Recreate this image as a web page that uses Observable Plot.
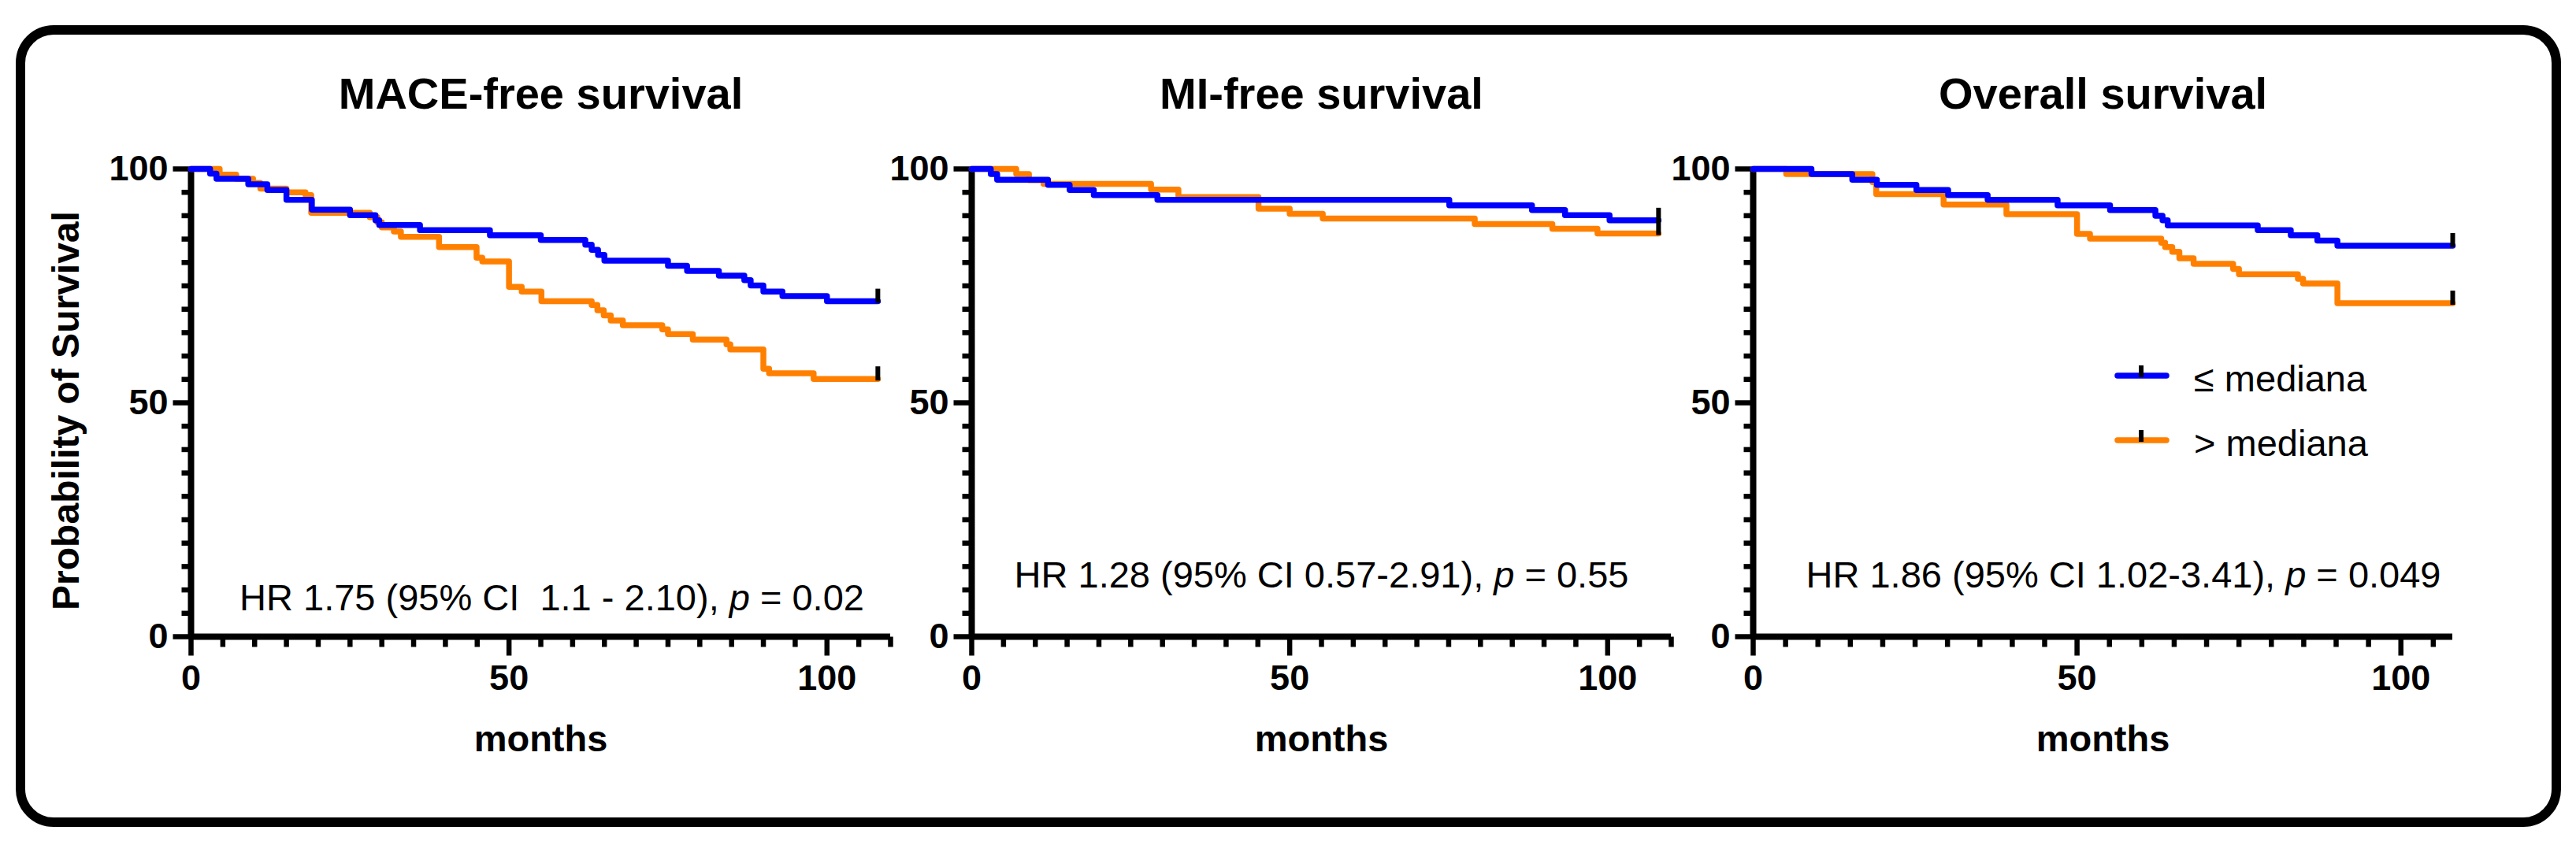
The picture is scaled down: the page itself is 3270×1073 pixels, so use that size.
<!DOCTYPE html>
<html>
<head>
<meta charset="utf-8">
<script src="https://cdn.jsdelivr.net/npm/d3@7"></script>
<script src="https://cdn.jsdelivr.net/npm/@observablehq/plot@0.6"></script>
<style>
  html, body { margin: 0; padding: 0; background: #fff; }
  #root { position: relative; width: 3270px; height: 1073px; overflow: hidden;
          font-family: "Liberation Sans", Arial, Helvetica, sans-serif; }
  #border { position: absolute; left: 20px; top: 32px; width: 3231px; height: 1018px;
            box-sizing: border-box; border: 12px solid #000; border-radius: 48px; }
  .panel { position: absolute; top: 0; }
  #legend { position: absolute; left: 0; top: 0; }
</style>
</head>
<body>
<div id="root"><div id="border"></div></div>
<script>
// ---------- data ----------
const groups = ["≤ mediana", "> mediana"];
const colors = ["#0000FF", "#FF8000"];
const titles = ["MACE-free survival", "MI-free survival", "Overall survival"];
const hrTexts = [
  "HR 1.75 (95% CI  1.1 - 2.10), p = 0.02",
  "HR 1.28 (95% CI 0.57-2.91), p = 0.55",
  "HR 1.86 (95% CI 1.02-3.41), p = 0.049"
];
const xLabel = "months";
const yLabel = "Probability of Survival";
const xMaxes = [110, 110, 108];
const majorTicks = [0, 50, 100];

// MACE-free survival
const maceLowT = [0, 3, 4, 9, 12, 15, 19, 25, 29, 29.6, 36, 47, 55, 62, 63, 64, 65, 75, 78, 83, 87, 88, 90, 93, 100, 108];
const maceLowS = [100, 99, 97.9, 96.7, 95.5, 93.4, 91.3, 90.1, 89, 88, 86.9, 85.8, 84.8, 83.8, 82.7, 81.6, 80.4, 79.3, 78.2, 77.2, 76.2, 75.1, 73.8, 72.8, 71.7, 71.7];
const maceHighT = [0, 4.5, 7.1, 9.75, 10.9, 15, 18, 18.9, 28.1, 29.3, 30, 31.9, 33, 39, 44.9, 45.8, 50, 52, 55.1, 63, 63.9, 64.9, 66, 67.9, 74.1, 75, 78.9, 84.2, 84.8, 90, 90.9, 97.9, 108];
const maceHighS = [100, 98.8, 97.9, 97.0, 95.8, 95.0, 94.4, 90.6, 89.7, 88.6, 87.5, 86.6, 85.5, 83.3, 81.0, 80.2, 74.8, 73.8, 71.7, 70.9, 69.8, 68.7, 67.6, 66.6, 65.7, 64.7, 63.5, 62.5, 61.4, 57.3, 56.3, 55.1, 55.1];

// MI-free survival
const miLowT = [0, 3, 4, 12, 15.4, 19.2, 29.2, 75.1, 88.1, 93.3, 100.3, 108];
const miLowS = [100, 98.9, 97.7, 96.6, 95.5, 94.4, 93.4, 92.2, 91.2, 90.1, 89.0, 89.0];
const miHighT = [0, 7, 9, 11.3, 28.2, 32.5, 45.1, 50, 55.2, 79.1, 91.3, 98.4, 108];
const miHighS = [100, 98.9, 97.6, 96.8, 95.6, 94.0, 91.5, 90.4, 89.4, 88.2, 87.2, 86.2, 86.2];

// Overall survival
const osLowT = [0, 9, 15.3, 19.1, 25.2, 30.1, 36.2, 47, 55.1, 62.1, 63.2, 64, 77.9, 83, 87.1, 90.2, 108];
const osLowS = [100, 98.9, 97.7, 96.6, 95.5, 94.4, 93.4, 92.2, 91.2, 90.0, 89.0, 87.9, 86.9, 85.8, 84.7, 83.6, 83.6];
const osHighT = [0, 5.1, 18.4, 19, 29.4, 39.1, 50, 52, 63, 63.6, 64.7, 65.8, 68, 74.1, 75, 84.1, 84.9, 90.2, 108];
const osHighS = [100, 98.9, 97.2, 94.6, 92.4, 90.3, 86.1, 85.1, 84.2, 83.3, 82.3, 80.9, 79.7, 78.6, 77.5, 76.5, 75.5, 71.3, 71.3];

const panelsData = [
  [[maceLowT, maceLowS], [maceHighT, maceHighS]],
  [[miLowT, miLowS], [miHighT, miHighS]],
  [[osLowT, osLowS], [osHighT, osHighS]]
];

// ---------- layout ----------
const FONT = "'Liberation Sans', Arial, Helvetica, sans-serif";
const H = 1073, MT = 214, MB = 265;
const layout = [
  {left: 0,    width: 1160, ml: 242, mr: 30,  hrDx: 14, hrDy: -34},
  {left: 1160, width: 1000, ml: 73,  mr: 39,  hrDx: 0,  hrDy: -63},
  {left: 2160, width: 1110, ml: 65,  mr: 157, hrDx: 26, hrDy: -63}
];

// fixed-pixel tick symbols
const hTick = len => ({draw(ctx) { ctx.moveTo(0, 0); ctx.lineTo(-len, 0); }});
const vTick = len => ({draw(ctx) { ctx.moveTo(0, 0); ctx.lineTo(0, len); }});
const censor = {draw(ctx) { ctx.moveTo(0, 2); ctx.lineTo(0, -16); }};
const root = document.getElementById("root");
const NS = "http://www.w3.org/2000/svg";
const TW = 6.5; // tick stroke width

panelsData.forEach((pd, p) => {
  const L = layout[p];
  const xMax = xMaxes[p];
  const rows = [];
  const ends = [];
  // draw "> mediana" first so "≤ mediana" sits on top
  [1, 0].forEach(gi => {
    const [T, S] = pd[gi];
    T.forEach((t, i) => rows.push({t, s: S[i], g: groups[gi]}));
    ends.push({t: T[T.length - 1], s: S[S.length - 1]});
  });
  const xMinor = d3.range(5, xMax + 0.01, 5).filter(v => v % 50 !== 0);
  const yMinor = d3.range(5, 100, 5).filter(v => v % 50 !== 0);
  const tickStyle = {fill: "none", stroke: "black", strokeWidth: TW, strokeLinecap: "butt"};

  const marks = [
    // y ticks
    Plot.dot(yMinor, {y: d => d, frameAnchor: "left", symbol: hTick(12), ...tickStyle}),
    Plot.dot(majorTicks, {y: d => d, frameAnchor: "left", symbol: hTick(23), ...tickStyle}),
    Plot.text(majorTicks, {y: d => d, text: d => String(d), frameAnchor: "left", dx: -29, textAnchor: "end", lineAnchor: "middle", fontSize: 45, fontWeight: "bold"}),
    // x ticks
    Plot.dot(xMinor, {x: d => d, frameAnchor: "bottom", symbol: vTick(13), ...tickStyle}),
    Plot.dot(majorTicks, {x: d => d, frameAnchor: "bottom", symbol: vTick(24), ...tickStyle}),
    Plot.text(majorTicks, {x: d => d, text: d => String(d), frameAnchor: "bottom", dy: 36, lineAnchor: "top", fontSize: 45, fontWeight: "bold"}),
    // axis lines
    Plot.ruleX([0], {strokeWidth: 8}),
    Plot.ruleY([0], {strokeWidth: 8}),
    // survival curves
    Plot.line(rows, {x: "t", y: "s", z: "g", stroke: "g", strokeWidth: 7.5, curve: "step-after"}),
    Plot.dot(ends, {x: "t", y: "s", symbol: censor, fill: "none", stroke: "black", strokeWidth: 6, strokeLinecap: "butt"}),
    // texts
    Plot.text([titles[p]], {text: d => d, frameAnchor: "top", dy: -77, lineAnchor: "bottom", fontSize: 56, fontWeight: "bold"}),
    Plot.text([xLabel], {text: d => d, frameAnchor: "bottom", dy: 145, lineAnchor: "bottom", fontSize: 47, fontWeight: "bold"}),
    Plot.text([hrTexts[p]], {text: d => d, frameAnchor: "bottom", dx: L.hrDx, dy: L.hrDy, lineAnchor: "bottom", fontSize: 47})
  ];
  if (p === 0) {
    marks.push(Plot.text([yLabel], {text: d => d, frameAnchor: "left", rotate: -90, dx: -158, dy: 10, textAnchor: "middle", lineAnchor: "middle", fontSize: 48, fontWeight: "bold"}));
  }

  const svg = Plot.plot({
    width: L.width, height: H,
    marginTop: MT, marginBottom: MB, marginLeft: L.ml, marginRight: L.mr,
    x: {domain: [0, xMax], axis: null},
    y: {domain: [0, 100], axis: null},
    color: {domain: groups, range: colors},
    style: {fontFamily: FONT, color: "black", background: "transparent", overflow: "visible"},
    marks
  });
  svg.classList.add("panel");
  svg.style.left = L.left + "px";
  svg.style.position = "absolute";

  // italic p in the HR annotation
  svg.querySelectorAll("text").forEach(t => {
    const full = t.textContent;
    if (full !== hrTexts[p]) return;
    const k = full.lastIndexOf("p =");
    while (t.firstChild) t.removeChild(t.firstChild);
    t.setAttribute("xml:space", "preserve");
    t.style.whiteSpace = "pre";
    [[full.slice(0, k), false], ["p", true], [full.slice(k + 1), false]].forEach(([s, it]) => {
      const ts = document.createElementNS(NS, "tspan");
      ts.textContent = s;
      if (it) { ts.setAttribute("font-style", "italic"); ts.style.fontStyle = "italic"; }
      t.appendChild(ts);
    });
  });
  root.appendChild(svg);
});

// ---------- legend (inside the third panel) ----------
const lg = document.createElementNS(NS, "svg");
lg.setAttribute("id", "legend");
lg.setAttribute("width", 3270);
lg.setAttribute("height", 1073);
groups.forEach((g, i) => {
  const y = 477 + i * 82;
  const line = document.createElementNS(NS, "line");
  line.setAttribute("x1", 2688); line.setAttribute("x2", 2750);
  line.setAttribute("y1", y); line.setAttribute("y2", y);
  line.setAttribute("stroke", colors[i]); line.setAttribute("stroke-width", 7.5);
  line.setAttribute("stroke-linecap", "round");
  lg.appendChild(line);
  const tick = document.createElementNS(NS, "line");
  tick.setAttribute("x1", 2718); tick.setAttribute("x2", 2718);
  tick.setAttribute("y1", y + 2); tick.setAttribute("y2", y - 13);
  tick.setAttribute("stroke", "black"); tick.setAttribute("stroke-width", 6);
  lg.appendChild(tick);
  const tx = document.createElementNS(NS, "text");
  tx.setAttribute("x", 2785); tx.setAttribute("y", y + 20);
  tx.setAttribute("font-size", 47);
  tx.setAttribute("font-family", FONT);
  tx.textContent = g;
  lg.appendChild(tx);
});
root.appendChild(lg);
</script>
</body>
</html>
